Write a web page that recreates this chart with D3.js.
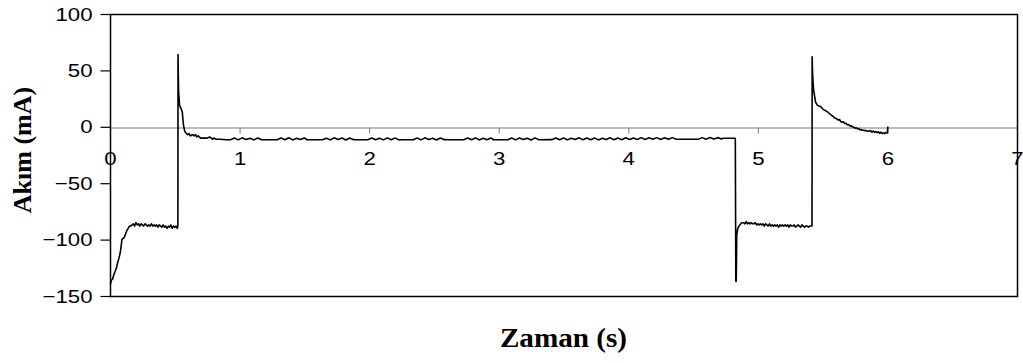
<!DOCTYPE html>
<html>
<head>
<meta charset="utf-8">
<script src="https://cdn.jsdelivr.net/npm/d3@7/dist/d3.min.js"></script>
<style>
  html, body { margin: 0; padding: 0; background: #fff; }
  svg { display: block; }
</style>
</head>
<body>
<svg id="chart" width="1023" height="363"></svg>
<script>
// Current trace, [time (s), current (mA)]
const chargeRamp = [
  [0,-138],[0.005,-139],[0.01,-136],[0.02,-135],[0.03,-131],[0.04,-128],[0.05,-125],
  [0.06,-120],[0.07,-116],[0.08,-111],[0.088,-104],[0.092,-100],[0.11,-98],[0.12,-95],
  [0.13,-92],[0.14,-90],[0.15,-88],[0.16,-88],[0.17,-87],[0.18,-86],[0.19,-88],[0.2,-85],
  [0.21,-87],[0.22,-86],[0.23,-88],[0.24,-86],[0.25,-87],[0.26,-88],[0.27,-86],[0.28,-87],
  [0.29,-88],[0.3,-87],[0.31,-88],[0.32,-86],[0.33,-88],[0.34,-87],[0.35,-88],[0.36,-87],
  [0.37,-89],[0.38,-87],[0.39,-88],[0.4,-89],[0.41,-87],[0.42,-89],[0.43,-88],[0.44,-90],
  [0.45,-88],[0.46,-89],[0.47,-87],[0.48,-90],[0.49,-88],[0.5,-89],[0.51,-88],[0.52,-90],
  [0.524,-88]
];

const firstSpike = [
  [0.525,64],[0.527,46],[0.53,30],[0.537,19],[0.545,17],[0.552,15],[0.558,13],[0.563,6],
  [0.568,1],[0.575,-3],[0.582,-5],[0.59,-6],[0.6,-7],[0.61,-6],[0.62,-8],[0.64,-7],
  [0.65,-8],[0.66,-7],[0.67,-9],[0.68,-8],[0.7,-10],[0.75,-10],[0.77,-9],[0.79,-11],
  [0.8,-10],[0.82,-11],[0.85,-11],[0.9,-11.5]
];

const holdLevel = [
  [0.93,-11.5],[0.96,-10],[0.99,-11.6],[1.02,-9.8],[1.05,-11.2],[1.08,-10.1],[1.11,-11.6],
  [1.14,-10],[1.17,-11.5],[1.29,-11.5],
  [1.32,-10],[1.35,-11.4],[1.38,-9.7],[1.41,-11.6],[1.44,-10.2],[1.47,-11.3],[1.5,-9.9],
  [1.52,-11.5],[1.64,-11.5],
  [1.67,-10.1],[1.7,-11.6],[1.73,-9.8],[1.76,-11.3],[1.79,-10],[1.82,-11.7],[1.85,-9.9],
  [1.88,-11.4],[1.9,-11.5],[1.99,-11.5],
  [2.02,-9.9],[2.05,-11.5],[2.08,-10.1],[2.11,-11.6],[2.14,-9.8],[2.17,-11.4],[2.2,-10],
  [2.23,-11.6],[2.25,-11.5],[2.34,-11.5],
  [2.37,-10],[2.4,-11.6],[2.43,-9.8],[2.46,-11.3],[2.49,-10.1],[2.52,-11.7],[2.55,-9.9],
  [2.58,-11.4],[2.62,-11.5],[2.73,-11.5],
  [2.76,-10],[2.79,-11.5],[2.82,-9.8],[2.85,-11.6],[2.88,-10.2],[2.91,-11.4],[2.94,-9.9],
  [2.96,-11.5],[3.07,-11.5],
  [3.1,-10],[3.13,-11.6],[3.16,-9.9],[3.19,-11.3],[3.22,-10.1],[3.25,-11.7],[3.28,-9.8],
  [3.31,-11.5],[3.41,-11.4],
  [3.44,-10],[3.47,-11.5],[3.5,-9.9],[3.53,-11.6],[3.56,-10.1],[3.59,-11.3],[3.62,-9.8],
  [3.65,-11.5],[3.68,-10],[3.71,-11.4],[3.74,-9.9],[3.77,-11.6],[3.8,-10.2],[3.83,-11.3],
  [3.86,-9.8],[3.89,-11.5],[3.92,-10],[3.95,-11.4],[3.98,-9.7],[4.01,-11.3],[4.04,-10],
  [4.07,-11.2],[4.1,-9.6],[4.13,-11.3],[4.16,-9.8],[4.19,-11.1],[4.22,-9.6],[4.25,-11.2],
  [4.28,-9.7],[4.31,-11],[4.34,-9.6],[4.37,-11.1],[4.4,-11],[4.54,-11],
  [4.57,-9.6],[4.6,-11],[4.63,-9.5],[4.66,-10.9],[4.69,-9.6],[4.72,-10.8],[4.73,-10.2],
  [4.826,-10.1]
];

const reversePulse = [
  [4.83,-137],[4.833,-137],[4.835,-118],[4.837,-96],[4.845,-90],[4.86,-87],[4.875,-85],
  [4.89,-85],[4.9,-86],[4.91,-84],[4.92,-86],[4.93,-85],[4.94,-86],[4.95,-85],[4.96,-86],
  [4.97,-86],[4.98,-85],[4.99,-87],[5.0,-86],[5.01,-87],[5.02,-86],[5.03,-87],[5.04,-86],
  [5.05,-88],[5.06,-86],[5.07,-87],[5.08,-88],[5.09,-86],[5.1,-88],[5.11,-87],[5.12,-88],
  [5.13,-87],[5.14,-88],[5.15,-87],[5.16,-89],[5.17,-87],[5.18,-88],[5.19,-87],[5.2,-88],
  [5.21,-87],[5.22,-88],[5.23,-87],[5.24,-89],[5.25,-87],[5.26,-88],[5.27,-88],[5.28,-87],
  [5.29,-89],[5.3,-88],[5.31,-87],[5.32,-88],[5.33,-89],[5.34,-87],[5.35,-88],[5.36,-89],
  [5.37,-88],[5.38,-88],[5.39,-89],[5.4,-88],[5.418,-88]
];

const secondSpike = [
  [5.419,62],[5.421,52],[5.424,43],[5.43,33],[5.445,22],[5.46,19],[5.47,18.5],[5.484,18],
  [5.5,16],[5.51,15],[5.52,14.5],[5.535,13.5],[5.55,12],[5.56,11],[5.57,10],[5.583,9],
  [5.59,8],[5.6,7.5],[5.61,7],[5.62,6],[5.63,6.5],[5.64,4.6],[5.65,4],[5.66,4.5],
  [5.67,3],[5.68,3.2],[5.69,1.7],[5.7,2],[5.71,0.8],[5.72,1],[5.73,0],[5.74,-0.4],
  [5.75,-1.2],[5.76,-0.8],[5.77,-2],[5.78,-1.6],[5.79,-2.8],[5.8,-2.6],[5.82,-3.2],
  [5.84,-3.6],[5.86,-3.8],[5.87,-3.4],[5.88,-4.8],[5.89,-3.8],[5.9,-4.8],[5.91,-4.2],
  [5.92,-5.2],[5.93,-4.4],[5.94,-5.8],[5.95,-4.8],[5.96,-6],[5.97,-5.4],[5.98,-6],
  [5.99,-5],[6.0,-5.6],[6.003,0.2]
];

const xTicks = [0, 1, 2, 3, 4, 5, 6, 7];
const yTicks = [-150, -100, -50, 0, 50, 100];
const xTitle = "Zaman (s)";
const yTitle = "Akım (mA)";

const trace = [].concat(chargeRamp, firstSpike, holdLevel, reversePulse, secondSpike);

const svg = d3.select("#chart");
const plot = { left: 110, right: 1017, top: 14, bottom: 296 };

const x = d3.scaleLinear().domain([0, 7]).range([plot.left, plot.right]);
const y = d3.scaleLinear().domain([-150, 100]).range([plot.bottom, plot.top]);

const sansFont = "Arial, 'Liberation Sans', sans-serif";
const serifFont = "'Times New Roman', 'Liberation Serif', serif";
const labelWiden = 1.17; // tick lettering is set slightly wide

// y axis on the left edge of the frame
const yAxis = svg.append("g")
  .attr("transform", `translate(${plot.left + 0.5},0)`)
  .call(d3.axisLeft(y).tickValues(yTicks).tickFormat(d3.format("d"))
    .tickSize(10).tickPadding(8).tickSizeOuter(0));
yAxis.select(".domain").remove();
yAxis.selectAll("line").attr("stroke", "#000").attr("stroke-width", 1.2);
yAxis.selectAll("text")
  .attr("font-family", sansFont).attr("font-size", 19).attr("fill", "#000")
  .each(function () {
    const t = d3.select(this);
    const tx = +t.attr("x");
    t.attr("x", 0).attr("transform", `translate(${tx},0) scale(${labelWiden},1)`);
  });

// x axis running along the zero line
const xAxis = svg.append("g")
  .attr("transform", `translate(0,${Math.round(y(0)) + 0.5})`)
  .call(d3.axisBottom(x).tickValues(xTicks).tickFormat(d3.format("d"))
    .tickSize(6).tickPadding(18).tickSizeOuter(0));
xAxis.select(".domain").attr("stroke", "#7a7a7a").attr("stroke-width", 1);
xAxis.selectAll("line").attr("stroke", "#7a7a7a").attr("stroke-width", 1);
xAxis.selectAll("text")
  .attr("font-family", sansFont).attr("font-size", 19).attr("fill", "#000")
  .each(function () {
    const t = d3.select(this);
    const ty = +t.attr("y");
    t.attr("y", 0).attr("transform", `translate(0,${ty}) scale(${labelWiden},1)`);
  });

// current trace
svg.append("path")
  .datum(trace)
  .attr("fill", "none")
  .attr("stroke", "#000")
  .attr("stroke-width", 1.6)
  .attr("stroke-linejoin", "round")
  .attr("d", d3.line().x(d => x(d[0])).y(d => y(d[1])));

// plot frame
svg.append("rect")
  .attr("x", plot.left + 0.5)
  .attr("y", plot.top + 0.5)
  .attr("width", plot.right - plot.left)
  .attr("height", plot.bottom - plot.top)
  .attr("fill", "none")
  .attr("stroke", "#000")
  .attr("stroke-width", 1.5);

// axis titles
svg.append("text")
  .attr("transform", `translate(${(plot.left + plot.right) / 2},347) scale(1.08,1)`)
  .attr("text-anchor", "middle")
  .attr("font-family", serifFont)
  .attr("font-weight", "bold")
  .attr("font-size", 27)
  .text(xTitle);

svg.append("text")
  .attr("transform", `translate(31,150) rotate(-90)`)
  .attr("text-anchor", "middle")
  .attr("font-family", serifFont)
  .attr("font-weight", "bold")
  .attr("font-size", 26)
  .text(yTitle);
</script>
</body>
</html>
